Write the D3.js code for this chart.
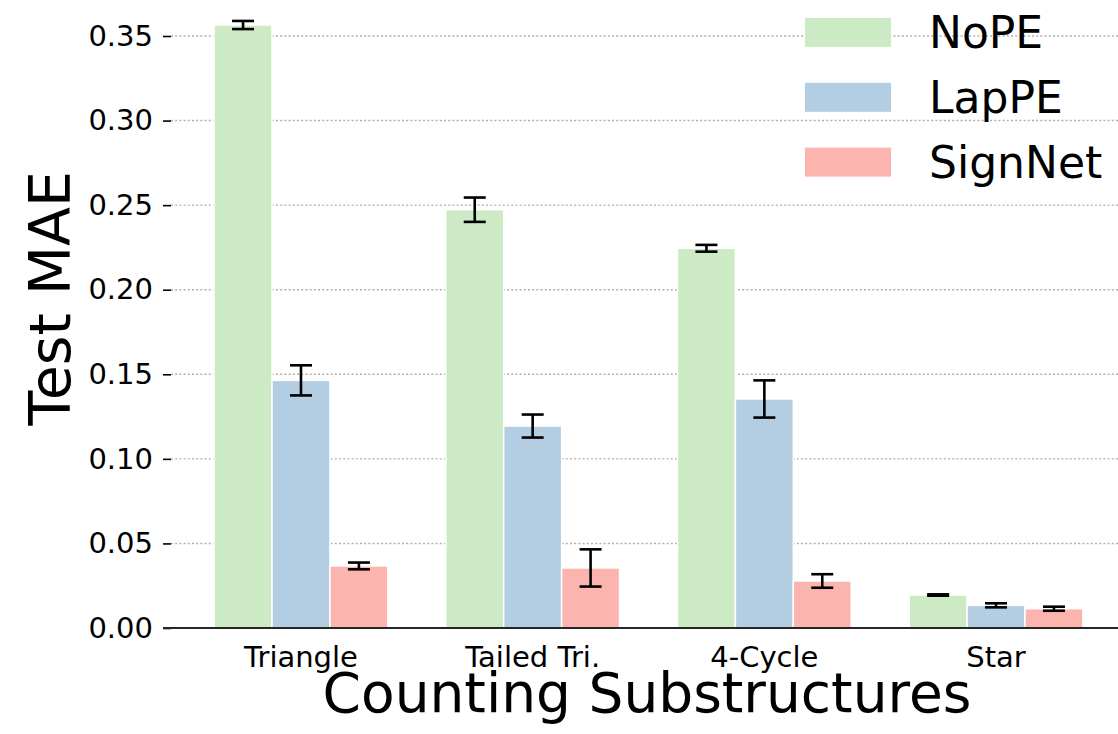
<!DOCTYPE html>
<html>
<head>
<meta charset="utf-8">
<script src="https://cdn.jsdelivr.net/npm/d3@7"></script>
<style>
  html, body { margin: 0; padding: 0; background: #fff; }
  svg { display: block; font-family: "DejaVu Sans", sans-serif; }
</style>
</head>
<body>
<svg id="chart" width="1118" height="734"></svg>
<script>
// Substructure-counting results: test MAE per positional encoding
const categories = ["Triangle", "Tailed Tri.", "4-Cycle", "Star"];
const seriesNames = ["NoPE", "LapPE", "SignNet"];
const seriesColors = ["#ccebc5", "#b3cde3", "#fbb4ae"];
const nopeMean = [0.3565, 0.2473, 0.2245, 0.0195];
const nopeErr = [0.0024, 0.0072, 0.0020, 0.0004];
const lapMean = [0.1464, 0.1194, 0.1354, 0.0134];
const lapErr = [0.0089, 0.0068, 0.0110, 0.0012];
const signMean = [0.0367, 0.0355, 0.0278, 0.0114];
const signErr = [0.0020, 0.0110, 0.0040, 0.0012];
const yTicks = [0.00, 0.05, 0.10, 0.15, 0.20, 0.25, 0.30, 0.35];

const means = [nopeMean, lapMean, signMean];
const errs = [nopeErr, lapErr, signErr];

const svg = d3.select("#chart");
const plotLeft = 171, plotRight = 1123, plotBottom = 628;

const x = d3.scaleLinear().domain([-0.561, 3.548]).range([plotLeft, plotRight]);
const y = d3.scaleLinear().domain([0, 0.35]).range([plotBottom, 36]);
const barW = 0.25;

// Dotted horizontal grid
svg.append("g").selectAll("line")
  .data(yTicks.filter(t => t > 0))
  .join("line")
  .attr("x1", plotLeft).attr("x2", 1118)
  .attr("y1", d => y(d)).attr("y2", d => y(d))
  .attr("stroke", "#b0b0b0")
  .attr("stroke-width", 1.4)
  .attr("stroke-dasharray", "2,2.2");

// Bars
const rows = [];
means.forEach((arr, s) => arr.forEach((v, i) => rows.push({ s, i, v, e: errs[s][i] })));

svg.append("g").selectAll("rect")
  .data(rows)
  .join("rect")
  .attr("x", d => x(d.i + (d.s - 1) * barW - barW / 2))
  .attr("width", d => x(barW) - x(0))
  .attr("y", d => y(d.v))
  .attr("height", d => y(0) - y(d.v))
  .attr("fill", d => seriesColors[d.s])
  .attr("stroke", "#fff")
  .attr("stroke-width", 1.5);

// Error bars
const eb = svg.append("g").attr("stroke", "#000").attr("stroke-width", 2.6);
const cap = 11;
rows.forEach(d => {
  const cx = x(d.i + (d.s - 1) * barW);
  const y1 = y(d.v + d.e), y2 = y(d.v - d.e);
  eb.append("line").attr("x1", cx).attr("x2", cx).attr("y1", y1).attr("y2", y2);
  eb.append("line").attr("x1", cx - cap).attr("x2", cx + cap).attr("y1", y1).attr("y2", y1);
  eb.append("line").attr("x1", cx - cap).attr("x2", cx + cap).attr("y1", y2).attr("y2", y2);
});

// Y axis (no spine, ticks only)
const yAxis = svg.append("g")
  .attr("transform", `translate(${plotLeft},0)`)
  .call(d3.axisLeft(y).tickValues(yTicks).tickFormat(d3.format(".2f")).tickSize(8).tickPadding(10));
yAxis.select(".domain").remove();
yAxis.selectAll(".tick line").attr("stroke", "#000").attr("stroke-width", 1.6);
yAxis.selectAll(".tick text")
  .attr("font-size", 29).attr("fill", "#000")
  .attr("font-family", "DejaVu Sans");

// Bottom spine
svg.append("line")
  .attr("x1", plotLeft - 8).attr("x2", 1118)
  .attr("y1", plotBottom).attr("y2", plotBottom)
  .attr("stroke", "#262626").attr("stroke-width", 2.2);

// Category labels
svg.append("g").selectAll("text")
  .data(categories)
  .join("text")
  .attr("x", (d, i) => x(i))
  .attr("y", 667)
  .attr("text-anchor", "middle")
  .attr("font-size", 29)
  .attr("fill", "#000")
  .text(d => d);

// Axis titles
svg.append("text")
  .attr("x", (plotLeft + plotRight) / 2).attr("y", 712)
  .attr("text-anchor", "middle")
  .attr("font-size", 55)
  .attr("fill", "#000")
  .text("Counting Substructures");

svg.append("text")
  .attr("transform", `translate(70,${y(0.195)}) rotate(-90)`)
  .attr("text-anchor", "middle")
  .attr("font-size", 57)
  .attr("fill", "#000")
  .text("Test MAE");

// Legend
const legend = svg.append("g");
seriesNames.forEach((name, k) => {
  const ly = 18 + k * 64.8;
  legend.append("rect")
    .attr("x", 805).attr("y", ly).attr("width", 86).attr("height", 29)
    .attr("fill", seriesColors[k]);
  legend.append("text")
    .attr("x", 929).attr("y", ly + 30)
    .attr("font-size", 44).attr("fill", "#000")
    .text(name);
});
</script>
</body>
</html>
